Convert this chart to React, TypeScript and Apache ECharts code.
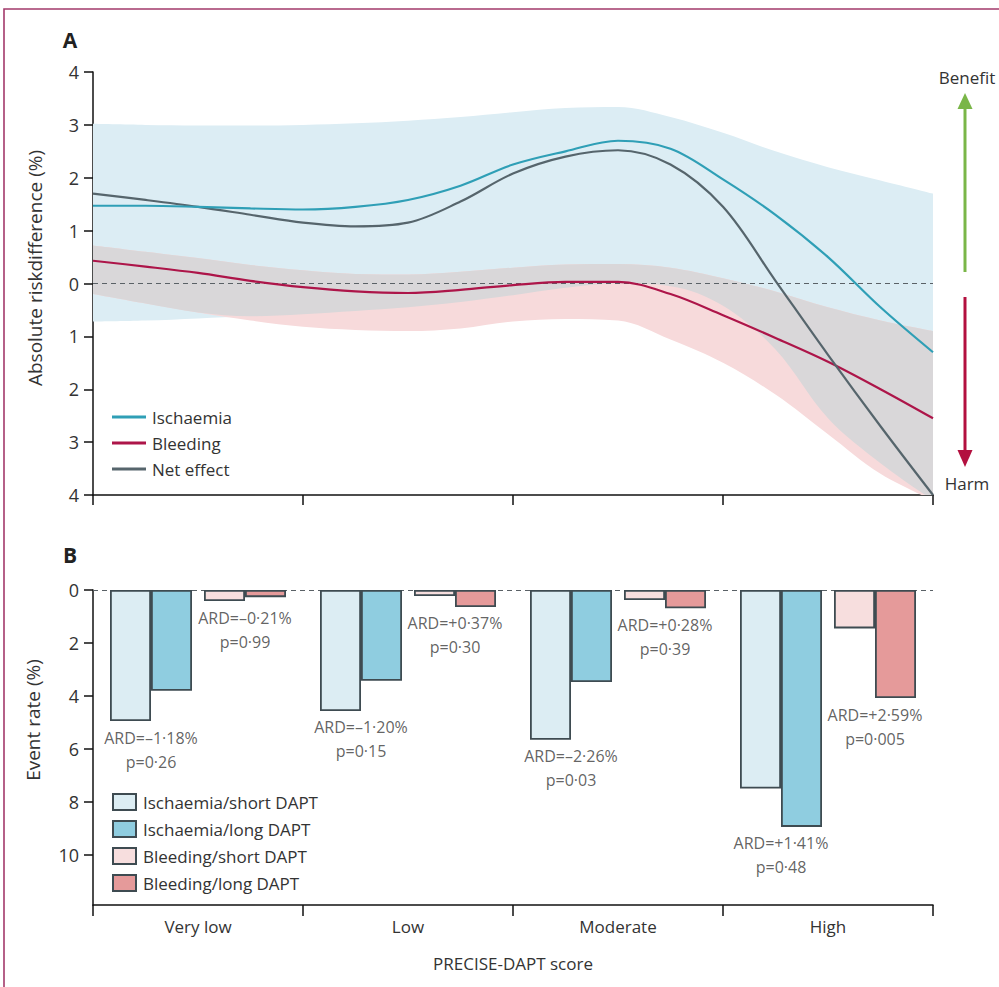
import React, { useEffect, useRef } from 'react';
import * as echarts from 'echarts';

// ---------- Panel A data (x = position along PRECISE-DAPT score, 0..4) ----------
const scorePos = ['0', '0.25', '0.5', '0.75', '1', '1.25', '1.5', '1.75', '2', '2.25', '2.5', '2.75', '3', '3.25', '3.5', '3.75', '4'];
const ischaemiaLine = [1.47, 1.47, 1.45, 1.42, 1.4, 1.45, 1.58, 1.85, 2.25, 2.5, 2.7, 2.55, 1.97, 1.3, 0.5, -0.45, -1.3];
const bleedingLine = [0.43, 0.32, 0.2, 0.05, -0.07, -0.15, -0.18, -0.12, -0.03, 0.03, 0.03, -0.2, -0.6, -1.03, -1.48, -2.0, -2.55];
const netEffectLine = [1.7, 1.58, 1.45, 1.3, 1.15, 1.08, 1.15, 1.55, 2.08, 2.4, 2.52, 2.25, 1.45, 0.05, -1.35, -2.7, -4.0];
const ischaemiaUpper = [3.02, 3.0, 2.99, 2.99, 3.0, 3.03, 3.08, 3.15, 3.24, 3.32, 3.34, 3.15, 2.85, 2.5, 2.2, 1.95, 1.7];
const ischaemiaLower = [-0.72, -0.7, -0.66, -0.62, -0.58, -0.52, -0.45, -0.35, -0.22, -0.08, 0.0, -0.05, -0.42, -1.25, -2.55, -3.4, -4.1];
const bleedingUpper = [0.72, 0.6, 0.48, 0.35, 0.25, 0.18, 0.17, 0.22, 0.3, 0.36, 0.37, 0.3, 0.1, -0.15, -0.45, -0.7, -0.9];
const bleedingLower = [-0.2, -0.38, -0.55, -0.7, -0.82, -0.88, -0.9, -0.85, -0.72, -0.67, -0.7, -1.06, -1.5, -2.1, -2.85, -3.6, -4.1];
const riskTicks = [-4, -3, -2, -1, 0, 1, 2, 3, 4];

// ---------- Panel B data ----------
const categories = ['Very low', 'Low', 'Moderate', 'High'];
const ischShort = [4.95, 4.57, 5.66, 7.5];
const ischLong = [3.81, 3.43, 3.48, 8.95];
const bleedShort = [0.42, 0.23, 0.38, 1.45];
const bleedLong = [0.27, 0.64, 0.69, 4.08];
const ischARD = ['ARD=–1·18%', 'ARD=–1·20%', 'ARD=–2·26%', 'ARD=+1·41%'];
const ischP = ['p=0·26', 'p=0·15', 'p=0·03', 'p=0·48'];
const bleedARD = ['ARD=–0·21%', 'ARD=+0·37%', 'ARD=+0·28%', 'ARD=+2·59%'];
const bleedP = ['p=0·99', 'p=0·30', 'p=0·39', 'p=0·005'];
const eventTicks = [0, 2, 4, 6, 8, 10];

const FONT = 'Open Sans';
const TXT = '#333333';
const C_ISCH = '#2f9fb6';
const C_BLEED = '#ad1549';
const C_NET = '#56656c';
const BAND_BLUE = '#dcedf4';
const BAND_PINK = '#f7dadb';
const BAND_OVER = '#d9d7d9';

function bandSeries(name: string, lower: number[], upper: number[], color: string) {
  const base = {
    type: 'line',
    xAxisIndex: 0,
    yAxisIndex: 0,
    stack: name,
    stackStrategy: 'all',
    smooth: 0.35,
    symbol: 'none',
    silent: true,
    lineStyle: { opacity: 0, width: 0 },
  };
  return [
    { ...base, name: name + '-lo', data: lower },
    {
      ...base,
      name: name + '-hi',
      data: upper.map((u, i) => Math.max(0, u - lower[i])),
      areaStyle: { color, opacity: 1 },
    },
  ];
}

const overlapLower = ischaemiaLower.map((l, i) => Math.max(l, bleedingLower[i]));
const overlapUpper = ischaemiaUpper.map((u, i) => Math.min(u, bleedingUpper[i]));

function lineSeries(name: string, ys: number[], color: string) {
  return {
    type: 'line',
    name,
    xAxisIndex: 0,
    yAxisIndex: 0,
    data: ys,
    smooth: 0.35,
    symbol: 'none',
    lineStyle: { color, width: 2.2 },
    itemStyle: { color },
  };
}

const BAR_BORDER = '#3e4b51';
function barSeries(name: string, data: number[], color: string) {
  return {
    type: 'bar',
    name,
    xAxisIndex: 1,
    yAxisIndex: 1,
    data,
    barWidth: 41,
    barGap: '0%',
    itemStyle: { color, borderColor: BAR_BORDER, borderWidth: 1.8 },
  };
}

function ardSeries(name: string, a: number[], b: number[], ard: string[], p: string[], dx: number) {
  return {
    type: 'scatter',
    name,
    xAxisIndex: 1,
    yAxisIndex: 1,
    symbolSize: 1,
    itemStyle: { color: 'rgba(0,0,0,0)' },
    silent: true,
    z: 5,
    data: categories.map((_, i) => [i, Math.max(a[i], b[i])]),
    label: {
      show: true,
      position: 'bottom',
      distance: 4,
      offset: [dx, 0],
      align: 'center',
      fontFamily: FONT,
      fontSize: 16,
      lineHeight: 24,
      color: '#3a3a3a',
      formatter: (pr: any) => ard[pr.dataIndex] + '\n' + p[pr.dataIndex],
    },
  };
}

const option: any = {
  animation: false,
  backgroundColor: '#ffffff',
  textStyle: { fontFamily: FONT },
  grid: [
    { left: 93, top: 72, width: 840, height: 423 },
    { left: 93, top: 590, width: 840, height: 315 },
  ],
  xAxis: [
    {
      type: 'category',
      gridIndex: 0,
      data: scorePos,
      boundaryGap: false,
      axisLine: { onZero: false, lineStyle: { color: '#111', width: 1.5 } },
      axisTick: { show: true, interval: 3, length: 10, lineStyle: { color: '#111', width: 1.5 } },
      axisLabel: { show: false },
      splitLine: { show: false },
    },
    {
      type: 'category',
      gridIndex: 1,
      data: categories,
      axisLine: { onZero: false, lineStyle: { color: '#111', width: 1.5 } },
      axisTick: { show: true, length: 11, alignWithLabel: false, lineStyle: { color: '#111', width: 1.5 } },
      axisLabel: { color: TXT, fontFamily: FONT, fontSize: 17, margin: 13 },
      name: 'PRECISE-DAPT score',
      nameLocation: 'middle',
      nameGap: 50,
      nameTextStyle: { color: TXT, fontFamily: FONT, fontSize: 17 },
    },
  ],
  yAxis: [
    {
      type: 'value',
      gridIndex: 0,
      min: -4,
      max: 4,
      interval: 1,
      axisLine: { show: true, onZero: false, lineStyle: { color: '#111', width: 1.5 } },
      axisTick: { show: true, length: 9, lineStyle: { color: '#111', width: 1.5 }, customValues: riskTicks },
      axisLabel: {
        color: TXT,
        fontFamily: FONT,
        fontSize: 18,
        margin: 14,
        customValues: riskTicks,
        formatter: (v: number) => String(Math.abs(v)),
      },
      splitLine: { show: false },
    },
    {
      type: 'value',
      gridIndex: 1,
      inverse: true,
      min: 0,
      max: 11.9,
      axisLine: { show: true, onZero: false, lineStyle: { color: '#111', width: 1.5 } },
      axisTick: { show: true, length: 9, lineStyle: { color: '#111', width: 1.5 }, customValues: eventTicks },
      axisLabel: { color: TXT, fontFamily: FONT, fontSize: 18, margin: 14, customValues: eventTicks },
      splitLine: { show: false },
    },
  ],
  legend: [
    {
      data: ['Ischaemia', 'Bleeding', 'Net effect'],
      orient: 'vertical',
      left: 107,
      top: 402,
      icon: 'rect',
      itemWidth: 34,
      itemHeight: 3,
      itemGap: 6,
      selectedMode: false,
      textStyle: { color: TXT, fontFamily: FONT, fontSize: 17, lineHeight: 20, padding: [0, 0, 0, 1] },
    },
    {
      data: ['Ischaemia/short DAPT', 'Ischaemia/long DAPT', 'Bleeding/short DAPT', 'Bleeding/long DAPT'],
      orient: 'vertical',
      left: 107,
      top: 787,
      icon: 'rect',
      itemWidth: 23,
      itemHeight: 16,
      itemGap: 7,
      selectedMode: false,
      textStyle: { color: TXT, fontFamily: FONT, fontSize: 17, lineHeight: 20, padding: [0, 0, 0, 2] },
    },
  ],
  series: [
    ...bandSeries('bandIsch', ischaemiaLower, ischaemiaUpper, BAND_BLUE),
    ...bandSeries('bandBleed', bleedingLower, bleedingUpper, BAND_PINK),
    ...bandSeries('bandOver', overlapLower, overlapUpper, BAND_OVER),
    {
      type: 'line',
      name: 'zeroA',
      xAxisIndex: 0,
      yAxisIndex: 0,
      data: scorePos.map(() => 0),
      symbol: 'none',
      silent: true,
      lineStyle: { color: '#5a6166', width: 1.2, type: [5, 4] },
    },
    lineSeries('Bleeding', bleedingLine, C_BLEED),
    lineSeries('Net effect', netEffectLine, C_NET),
    lineSeries('Ischaemia', ischaemiaLine, C_ISCH),
    barSeries('Ischaemia/short DAPT', ischShort, '#dcedf3'),
    barSeries('Ischaemia/long DAPT', ischLong, '#8fcde0'),
    {
      type: 'bar',
      name: 'spacer',
      xAxisIndex: 1,
      yAxisIndex: 1,
      data: categories.map(() => '-'),
      barWidth: 12,
      barGap: '0%',
      silent: true,
      markLine: {
        z: 1,
        silent: true,
        symbol: 'none',
        label: { show: false },
        lineStyle: { color: '#5a6166', width: 1.2, type: [5, 4] },
        data: [{ yAxis: 0 }],
      },
    },
    barSeries('Bleeding/short DAPT', bleedShort, '#f7dede'),
    barSeries('Bleeding/long DAPT', bleedLong, '#e59a9a'),
    ardSeries('ardIsch', ischShort, ischLong, ischARD, ischP, -47),
    ardSeries('ardBleed', bleedShort, bleedLong, bleedARD, bleedP, 47),
  ],
  graphic: [
    {
      type: 'rect',
      silent: true,
      shape: { x: 4, y: 9, width: 1010, height: 1010 },
      style: { fill: 'none', stroke: '#a33a6b', lineWidth: 1.6 },
    },
    { type: 'text', x: 70, y: 40, style: { text: 'A', fontFamily: FONT, fontWeight: 'bold', fontSize: 21, fill: '#222', textAlign: 'center', textVerticalAlign: 'middle' } },
    { type: 'text', x: 70, y: 555, style: { text: 'B', fontFamily: FONT, fontWeight: 'bold', fontSize: 21, fill: '#222', textAlign: 'center', textVerticalAlign: 'middle' } },
    {
      type: 'text', x: 35, y: 268, rotation: Math.PI / 2,
      style: { text: 'Absolute riskdifference (%)', fontFamily: FONT, fontSize: 19, fill: TXT, textAlign: 'center', textVerticalAlign: 'middle' },
    },
    {
      type: 'text', x: 33, y: 720, rotation: Math.PI / 2,
      style: { text: 'Event rate (%)', fontFamily: FONT, fontSize: 19, fill: TXT, textAlign: 'center', textVerticalAlign: 'middle' },
    },
    { type: 'text', x: 967, y: 77, style: { text: 'Benefit', fontFamily: FONT, fontSize: 17, fill: TXT, textAlign: 'center', textVerticalAlign: 'middle' } },
    { type: 'text', x: 967, y: 483, style: { text: 'Harm', fontFamily: FONT, fontSize: 17, fill: TXT, textAlign: 'center', textVerticalAlign: 'middle' } },
    { type: 'line', shape: { x1: 965, y1: 272, x2: 965, y2: 106 }, style: { stroke: '#7ab648', lineWidth: 3 } },
    { type: 'polygon', shape: { points: [[965, 93], [957.5, 109], [972.5, 109]] }, style: { fill: '#7ab648' } },
    { type: 'line', shape: { x1: 965, y1: 297, x2: 965, y2: 452 }, style: { stroke: '#b3103f', lineWidth: 3 } },
    { type: 'polygon', shape: { points: [[965, 467], [957.5, 450], [972.5, 450]] }, style: { fill: '#b3103f' } },
  ],
};

export default function App() {
  const ref = useRef<HTMLDivElement>(null);
  useEffect(() => {
    document.body.style.margin = '0';
    const chart = echarts.init(ref.current as HTMLDivElement, null, { renderer: 'svg' });
    chart.setOption(option);
    return () => chart.dispose();
  }, []);
  return <div ref={ref} style={{ width: 999, height: 987 }} />;
}
